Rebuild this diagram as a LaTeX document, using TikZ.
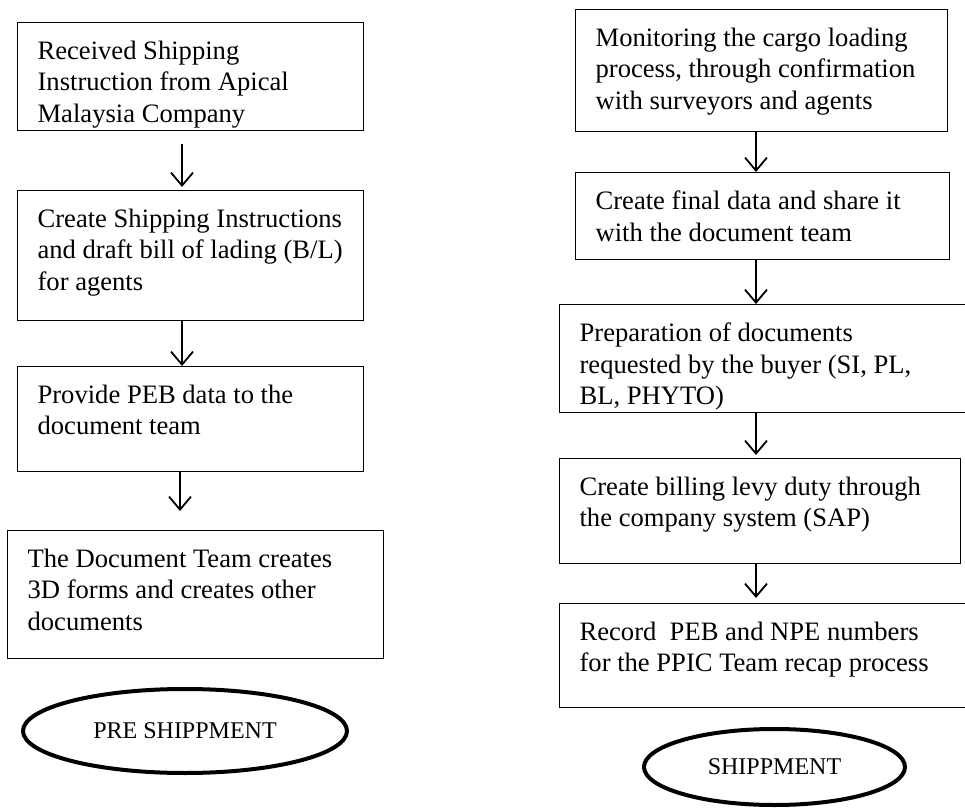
\documentclass[tikz,border=0pt]{standalone}
\usepackage{fontspec}
\setmainfont{Liberation Serif}
\usetikzlibrary{arrows.meta, shapes.geometric}

\begin{document}
\begin{tikzpicture}[x=0.5pt, y=-0.5pt,
    stepbox/.style={draw, line width=0.6pt, anchor=north west, inner xsep=10pt, inner ysep=9pt,
      font=\fontsize{13.3}{15.9}\selectfont},
    flow/.style={-{Straight Barb[length=6.5pt, width=11pt]}, line width=0.9pt},
    stage/.style={ellipse, draw, line width=2pt, font=\fontsize{12}{14}\selectfont}]
  \useasboundingbox (0,0) rectangle (965,808);
  \coordinate (lx) at (182,0);
  \coordinate (lxb) at (180,0);
  \coordinate (rx) at (756,0);
  % pre shipment steps
  \node[stepbox] (pre1) at (17,22)  {\parbox[t][36pt][t]{153pt}{Received Shipping\\Instruction from Apical\\Malaysia Company}};
  \node[stepbox] (pre2) at (17,190) {\parbox[t][47pt][t]{153pt}{Create Shipping Instructions\\and draft bill of lading (B/L)\\for agents}};
  \node[stepbox] (pre3) at (17,366) {\parbox[t][34.5pt][t]{153pt}{Provide PEB data to the\\document team}};
  \node[stepbox] (pre4) at (7,530)  {\parbox[t][46pt][t]{168pt}{The Document Team creates\\3D forms and creates other\\documents}};
  \node[stage, minimum width=162pt, minimum height=42pt] (prestage) at (185,731) {PRE SHIPPMENT};
  % shipment steps
  \node[stepbox] (ship1) at (575,9)   {\parbox[t][43pt][t]{166pt}{Monitoring the cargo loading\\process, through confirmation\\with surveyors and agents}};
  \node[stepbox] (ship2) at (575,172) {\parbox[t][25.5pt][t]{167pt}{Create final data and share it\\with the document team}};
  \node[stepbox] (ship3) at (559,304) {\parbox[t][36pt][t]{190pt}{Preparation of documents\\requested by the buyer (SI, PL,\\BL, PHYTO)}};
  \node[stepbox] (ship4) at (559,458) {\parbox[t][34.5pt][t]{180.5pt}{Create billing levy duty through\\the company system (SAP)}};
  \node[stepbox] (ship5) at (559,603) {\parbox[t][34pt][t]{190pt}{Record\ \ PEB and NPE numbers\\for the PPIC Team recap process}};
  \node[stage, minimum width=130.5pt, minimum height=38pt] (shipstage) at (774.5,767) {SHIPPMENT};
  % flow arrows
  \draw[flow, shorten <=6.5pt, shorten >=1.5pt] (pre1.south -| lx) -- (pre2.north -| lx);
  \draw[flow] (pre2.south -| lx) -- (pre3.north -| lx);
  \draw[flow, shorten >=9.5pt] (pre3.south -| lxb) -- (pre4.north -| lxb);
  \draw[flow] (ship1.south -| rx) -- (ship2.north -| rx);
  \draw[flow] (ship2.south -| rx) -- (ship3.north -| rx);
  \draw[flow, shorten >=1.5pt] (ship3.south -| rx) -- (ship4.north -| rx);
  \draw[flow, shorten >=2.5pt] (ship4.south -| rx) -- (ship5.north -| rx);
\end{tikzpicture}
\end{document}
